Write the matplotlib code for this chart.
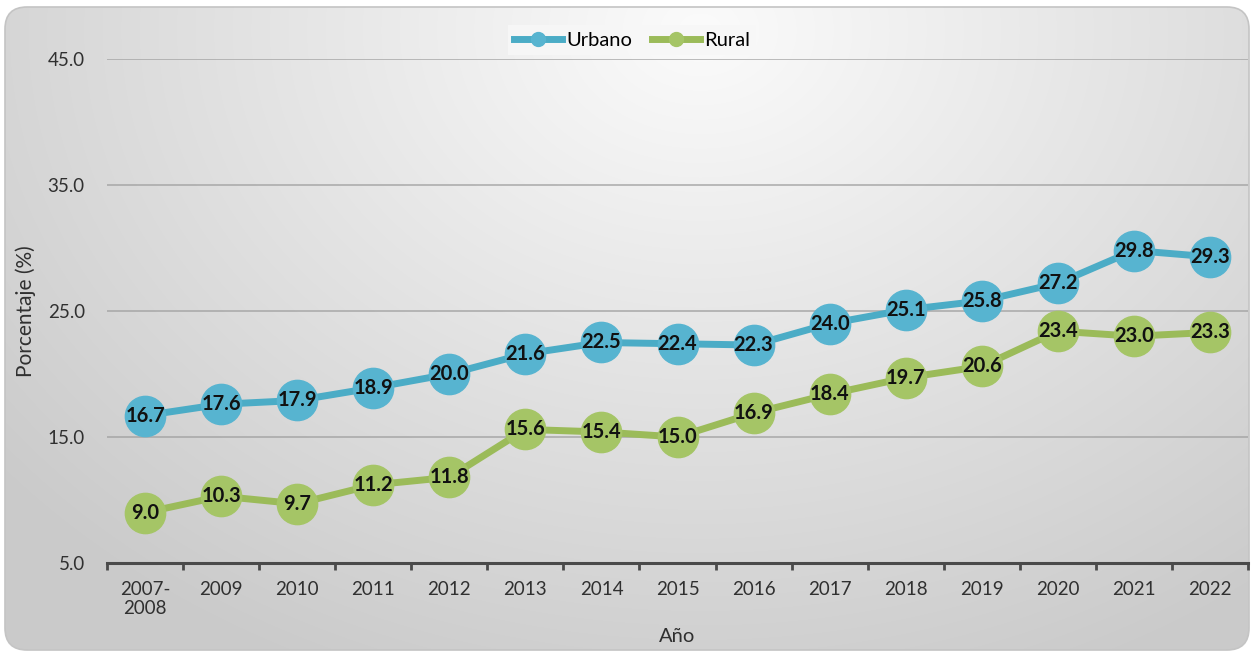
import numpy as np
import matplotlib
matplotlib.use("Agg")
import matplotlib.pyplot as plt
from matplotlib.patches import FancyBboxPatch
from matplotlib.lines import Line2D

categories = ["2007-\n2008", "2009", "2010", "2011", "2012", "2013", "2014", "2015",
              "2016", "2017", "2018", "2019", "2020", "2021", "2022"]
urbano = [16.7, 17.6, 17.9, 18.9, 20.0, 21.6, 22.5, 22.4, 22.3, 24.0, 25.1, 25.8, 27.2, 29.8, 29.3]
rural = [9.0, 10.3, 9.7, 11.2, 11.8, 15.6, 15.4, 15.0, 16.9, 18.4, 19.7, 20.6, 23.4, 23.0, 23.3]
yticks = [5.0, 15.0, 25.0, 35.0, 45.0]

plt.rcParams['font.family'] = ['Lato', 'DejaVu Sans']

W, H = 1251, 652
fig = plt.figure(figsize=(W / 100, H / 100), dpi=100)
fig.patch.set_facecolor("white")

# Background with radial gradient in rounded frame
bg = fig.add_axes([0, 0, 1, 1], zorder=-5)
bg.set_xlim(0, W)
bg.set_ylim(H, 0)
bg.axis("off")
yy, xx = np.mgrid[0:H, 0:W]
cx, cy = 700, 30
d = np.sqrt(((xx - cx) / 900.0) ** 2 + ((yy - cy) / 700.0) ** 2)
d = np.clip(d, 0, 1)
val = 0.985 - 0.19 * d
img = np.dstack([val, val, val])
im = bg.imshow(img, extent=[0, W, H, 0], interpolation="bilinear", aspect="auto")
frame = FancyBboxPatch((5, 7), W - 7, H - 9, boxstyle="round,pad=0,rounding_size=22",
                       transform=bg.transData, facecolor="none", edgecolor="#c4c4c4", lw=1.2)
bg.add_patch(frame)
im.set_clip_path(frame)

ax = fig.add_axes([107 / W, 1 - 563 / H, (1248 - 107) / W, (563 - 59) / H])
ax.set_facecolor("none")
x = np.arange(len(categories))
ax.set_xlim(-0.5, len(categories) - 0.5)
ax.set_ylim(5, 45)

for yv in yticks[1:]:
    ax.axhline(yv, color="#a0a0a0", lw=1.3, alpha=0.75, zorder=1)

blue_line = "#4BACC6"
blue_mk = "#57b4d0"
green_line = "#9BBB59"
green_mk = "#a5c566"

ax.plot(x, urbano, color=blue_line, lw=5, zorder=3, solid_capstyle="round")
ax.plot(x, urbano, ls="none", marker="o", ms=29, mfc=blue_mk, mec=blue_mk, zorder=4)
ax.plot(x, rural, color=green_line, lw=5, zorder=3, solid_capstyle="round")
ax.plot(x, rural, ls="none", marker="o", ms=29, mfc=green_mk, mec=green_mk, zorder=4)

for xi, v in zip(x, urbano):
    ax.text(xi, v, f"{v:.1f}", ha="center", va="center", fontsize=14.5,
            fontweight="bold", color="#111111", zorder=5)
for xi, v in zip(x, rural):
    ax.text(xi, v, f"{v:.1f}", ha="center", va="center", fontsize=14.5,
            fontweight="bold", color="#111111", zorder=5)

for s in ["top", "right", "left"]:
    ax.spines[s].set_visible(False)
ax.spines["bottom"].set_color("#4a4a4a")
ax.spines["bottom"].set_linewidth(2.2)
ax.spines["bottom"].set_zorder(6)

ax.set_xticks(x)
ax.set_xticklabels(categories, fontsize=13.5, color="#303030", linespacing=1.12)
ax.set_xticks(np.arange(-0.5, len(categories)), minor=True)
ax.tick_params(axis="x", which="major", length=0, pad=13)
ax.tick_params(axis="x", which="minor", length=5, width=2, color="#4a4a4a")
ax.set_yticks(yticks)
ax.set_yticklabels([f"{v:.1f}" for v in yticks], fontsize=13.5, color="#303030")
ax.tick_params(axis="y", length=0, pad=16)

ax.set_ylabel("Porcentaje (%)", fontsize=15, color="#303030", labelpad=8)
ax.set_xlabel("Año", fontsize=14.5, color="#303030")
ax.xaxis.set_label_coords(0.5, -0.128)

handles = [Line2D([0], [0], color=blue_line, lw=5, marker="o", ms=10, mfc=blue_mk, mec=blue_mk),
           Line2D([0], [0], color=green_line, lw=5, marker="o", ms=10, mfc=green_mk, mec=green_mk)]
leg = fig.legend(handles, ["Urbano", "Rural"], loc="center", bbox_to_anchor=(632 / W, 1 - 40 / H),
                 ncol=2, frameon=True, fontsize=14.5, handlelength=2.4, columnspacing=1.0,
                 handletextpad=0.2, borderpad=0.3, fancybox=False)
leg.get_frame().set_facecolor("#f7f7f7")
leg.get_frame().set_edgecolor("none")
leg.get_frame().set_alpha(0.9)

fig.savefig("out.png", dpi=100)
